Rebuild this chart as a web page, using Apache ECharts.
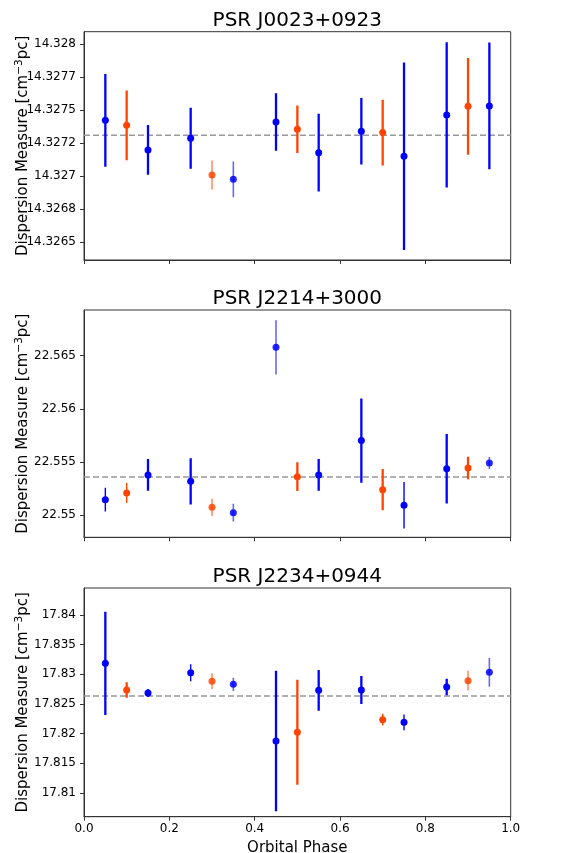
<!DOCTYPE html>
<html>
<head>
<meta charset="utf-8">
<script src="https://cdn.jsdelivr.net/npm/echarts@6/dist/echarts.min.js"></script>
<style>html,body{margin:0;padding:0;background:#fff}#c{width:566px;height:853px}</style>
</head>
<body>
<div id="c"></div>
<script>
// ---- data ----
const phases = [0.05, 0.10, 0.15, 0.25, 0.30, 0.35, 0.45, 0.50, 0.55, 0.65, 0.70, 0.75, 0.85, 0.90, 0.95];
const source = ['A','B','A','A','B','A','A','B','A','A','B','A','A','B','A'];
const titles = ['PSR J0023+0923', 'PSR J2214+3000', 'PSR J2234+0944'];

const dmJ0023 = [14.327424, 14.327386, 14.327200, 14.327288, 14.327010, 14.326977, 14.327412, 14.327356, 14.327179, 14.327341, 14.327331, 14.327152, 14.327465, 14.327530, 14.327533];
const errJ0023 = [0.000351, 0.000265, 0.000188, 0.000231, 0.000110, 0.000135, 0.000218, 0.000180, 0.000294, 0.000252, 0.000249, 0.000710, 0.000550, 0.000366, 0.000480];
const meanJ0023 = 14.327311;

const dmJ2214 = [22.55147, 22.55210, 22.55379, 22.55319, 22.55075, 22.55025, 22.56578, 22.55363, 22.55379, 22.55702, 22.55241, 22.55094, 22.55438, 22.55445, 22.55492];
const errJ2214 = [0.00111, 0.00094, 0.00149, 0.00218, 0.00081, 0.00083, 0.00254, 0.00135, 0.00149, 0.00395, 0.00193, 0.00218, 0.00327, 0.00106, 0.00056];
const meanJ2214 = 22.55360;

const dmJ2234 = [17.83185, 17.82736, 17.82685, 17.83028, 17.82882, 17.82832, 17.81876, 17.82023, 17.82730, 17.82736, 17.82236, 17.82191, 17.82787, 17.82893, 17.83034];
const errJ2234 = [0.00871, 0.00129, 0.00065, 0.00143, 0.00135, 0.00112, 0.01185, 0.00885, 0.00343, 0.00236, 0.00098, 0.00132, 0.00140, 0.00166, 0.00242];
const meanJ2234 = 17.82635;

const yTicksJ0023 = [14.3265, 14.32675, 14.327, 14.32725, 14.3275, 14.32775, 14.328];
const yLabelsJ0023 = ['14.3265', '14.3268', '14.327', '14.3272', '14.3275', '14.3277', '14.328'];
const yTicksJ2214 = [22.55, 22.555, 22.56, 22.565];
const yLabelsJ2214 = ['22.55', '22.555', '22.56', '22.565'];
const yTicksJ2234 = [17.81, 17.815, 17.82, 17.825, 17.83, 17.835, 17.84];
const yLabelsJ2234 = ['17.81', '17.815', '17.82', '17.825', '17.83', '17.835', '17.84'];
const xTicks = [0.0, 0.2, 0.4, 0.6, 0.8, 1.0];
const xLabels = ['0.0', '0.2', '0.4', '0.6', '0.8', '1.0'];

// ---- styles (not data) ----
const barLook1 = [0,0,0,0,2,2,0,0,0,0,0,0,0,0,0];
const barLook2 = [1,1,0,0,2,2,2,0,0,0,0,1,0,0,2];
const barLook3 = [0,0,0,1,2,2,0,0,0,0,1,1,0,2,2];
const looks = [{w: 2.3, a: 1}, {w: 1.4, a: 1}, {w: 1.6, a: 0.6}];
const colorOf = {A: '#0000ff', B: '#ff4500'};

const panels = [
  {dm: dmJ0023, err: errJ0023, mean: meanJ0023, ticks: yTicksJ0023, labels: yLabelsJ0023, min: 14.326366, max: 14.3280955, top: 31.7, height: 228.3, look: barLook1},
  {dm: dmJ2214, err: errJ2214, mean: meanJ2214, ticks: yTicksJ2214, labels: yLabelsJ2214, min: 22.547933, max: 22.56929, top: 310, height: 227.3, look: barLook2},
  {dm: dmJ2234, err: errJ2234, mean: meanJ2234, ticks: yTicksJ2234, labels: yLabelsJ2234, min: 17.806011, max: 17.84455, top: 588, height: 228.7, look: barLook3}
];

const FONT = 'DejaVu Sans';
const grid = [], xAxis = [], yAxis = [], series = [], title = [];

panels.forEach((p, i) => {
  grid.push({left: 84, right: 55.3, top: p.top, height: p.height, show: true, borderColor: '#333', borderWidth: 1,
    backgroundColor: 'transparent', containLabel: false, outerBoundsMode: 'none'});
  title.push({text: titles[i], left: 297.3, top: p.top - 21, textAlign: 'center', padding: 0,
    textStyle: {fontFamily: FONT, fontSize: 20, fontWeight: 'normal', color: '#000'}});
  xAxis.push({
    type: 'value', gridIndex: i, min: 0, max: 1,
    axisLine: {show: true, lineStyle: {color: '#333', width: 1}},
    axisTick: {show: true, inside: false, length: 4, lineStyle: {color: '#333', width: 1}, customValues: xTicks},
    axisLabel: {show: i === 2, customValues: xTicks, margin: 6, fontFamily: FONT, fontSize: 12, color: '#000',
      formatter: v => xLabels[xTicks.findIndex(t => Math.abs(t - v) < 1e-9)] },
    splitLine: {show: false},
    name: i === 2 ? 'Orbital Phase' : '', nameLocation: 'middle', nameGap: 24, nameMoveOverlap: false,
    nameTextStyle: {fontFamily: FONT, fontSize: 15, color: '#000'}
  });
  yAxis.push({
    type: 'value', gridIndex: i, min: p.min, max: p.max, scale: true,
    axisLine: {show: true, lineStyle: {color: '#333', width: 1}},
    axisTick: {show: true, inside: false, length: 4, lineStyle: {color: '#333', width: 1}, customValues: p.ticks},
    axisLabel: {customValues: p.ticks, margin: 8, fontFamily: FONT, fontSize: 12, color: '#000',
      formatter: v => { let k = 0, best = Infinity; p.ticks.forEach((t, j) => { const d = Math.abs(t - v); if (d < best) { best = d; k = j; } }); return p.labels[k]; } },
    splitLine: {show: false},
    name: 'Dispersion Measure [cm{sup|−3}pc]', nameLocation: 'middle', nameRotate: 90, nameGap: 52, nameMoveOverlap: false,
    nameTextStyle: {fontFamily: FONT, fontSize: 15, color: '#000',
      rich: {sup: {fontFamily: FONT, fontSize: 10.5, color: '#000', verticalAlign: 'bottom', padding: [0, 0, 7, 0]}}}
  });
  // mean dashed line
  series.push({
    type: 'line', xAxisIndex: i, yAxisIndex: i, data: [[0, p.mean], [1, p.mean]],
    symbol: 'none', silent: true, z: 1,
    lineStyle: {color: '#999', width: 1.3, type: [6, 3]}
  });
  // error bars
  const barData = phases.map((x, k) => [x, p.dm[k] - p.err[k], p.dm[k] + p.err[k]]);
  series.push({
    type: 'custom', xAxisIndex: i, yAxisIndex: i, data: barData, z: 2, clip: true,
    renderItem: (params, api) => {
      const k = params.dataIndex;
      const a = api.coord([api.value(0), api.value(1)]);
      const b = api.coord([api.value(0), api.value(2)]);
      const lk = looks[p.look[k]];
      return {type: 'line', shape: {x1: a[0], y1: a[1], x2: b[0], y2: b[1]},
        style: {stroke: colorOf[source[k]], lineWidth: lk.w, opacity: lk.a}};
    }
  });
  // markers
  series.push({
    type: 'scatter', xAxisIndex: i, yAxisIndex: i, symbol: 'circle', symbolSize: 7, z: 3,
    data: phases.map((x, k) => ({value: [x, p.dm[k]], itemStyle: {color: colorOf[source[k]], opacity: p.look[k] === 2 ? 0.85 : 1}}))
  });
});

const chart = echarts.init(document.getElementById('c'), null, {renderer: 'canvas'});
chart.setOption({animation: false, backgroundColor: '#fff', title, grid, xAxis, yAxis, series});
</script>
</body>
</html>
